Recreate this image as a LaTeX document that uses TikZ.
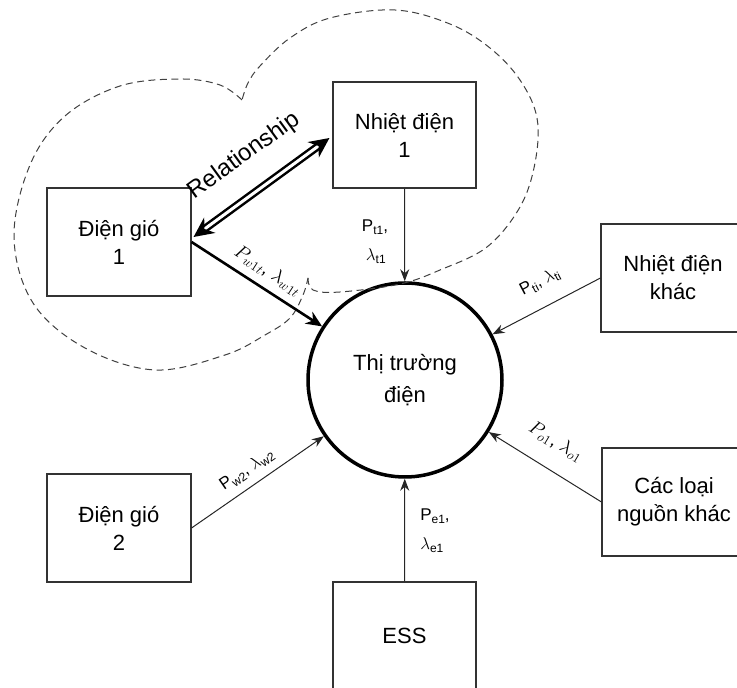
\documentclass[tikz,border=0pt]{standalone}
\usepackage{fix-cm}
\usepackage{fontspec}
\setmainfont{Liberation Sans}
\usetikzlibrary{arrows.meta}

% small lowered index for the flow labels
\newcommand\subx[1]{\raisebox{-0.35ex}{\fontsize{12}{12}\selectfont #1}}

\begin{document}
\begin{tikzpicture}[x=1pt,y=1pt,
  box/.style={draw=black!80, line width=1.1pt, minimum width=144pt, minimum height=108pt,
    align=center, inner sep=0pt, font=\fontsize{22}{28}\selectfont},
  market/.style={circle, draw=black, line width=3.5pt, minimum size=194pt, inner sep=0pt,
    align=center, font=\fontsize{22}{32}\selectfont},
  flow/.style={draw=black!85, line width=1pt, -{Stealth[length=12pt,width=9pt]}},
  flowthick/.style={draw=black, line width=2.6pt, -{Stealth[length=16pt,width=14pt]}},
  relarrow/.style={double=white, double distance=3pt, line width=2.5pt,
    {Stealth[length=20pt,width=19pt]}-{Stealth[length=20pt,width=19pt]}},
  flowlabel/.style={font=\fontsize{17}{29}\selectfont, inner sep=0pt},
  mathlabel/.style={font=\fontsize{19}{19}\selectfont, inner sep=0pt},
  group/.style={draw=black!75, line width=1pt, dash pattern=on 7pt off 4.5pt}
]
\useasboundingbox (0,0) rectangle (737,688);

% market and participants
\node[market] (mk) at (405,308) {Thị trường\\điện};
\node[box] (g1) at (119,446) {Điện gió\\1};
\node[box, minimum width=143pt, minimum height=106pt] (n1) at (404.5,553) {Nhiệt điện\\1};
\node[box] (nk) at (673,410) {Nhiệt điện\\khác};
\node[box] (ok) at (674,186) {Các loại\\nguồn khác};
\node[box] (g2) at (119,160) {Điện gió\\2};
\node[box, minimum width=143pt] (ess) at (404.5,52) {ESS};

% coalition boundary (two lobes)
\draw[group] plot[smooth, tension=0.6] coordinates {
  (242,588) (220,603) (180,609) (120,602) (65,572) (30,523) (14,451) (33,385)
  (85,340) (155,318) (225,333) (265,353) (290,370) (303,393) (308,410)};
\draw[group] plot[smooth, tension=0.6] coordinates {
  (308,410) (313,398) (340,396) (400,404) (440,418) (487,441) (520,481) (535,525)
  (537,570) (520,608) (490,640) (450,664) (395,678) (330,670) (290,650) (260,622)
  (248,605) (242,588)};

% flows into the market
\draw[flow] (n1.south) -- (mk);
\draw[flowthick] (g1.east) -- (mk);
\draw[flow] (nk.west) -- (mk);
\draw[flow] (ok.west) -- (mk);
\draw[flow] (g2.east) -- (mk);
\draw[flow] (ess.north) -- (mk);

% relationship between the two generators
\draw[relarrow] ([xshift=2pt,yshift=5pt]g1.east) -- ([xshift=-3pt,yshift=-3pt]n1.west);
\node[rotate=36, font=\fontsize{24}{24}\selectfont, inner sep=0pt] (rel) at (244,532) {Relationship};

% flow labels
\node[flowlabel, align=left] (lt1) at (375,446) {P\subx{t1},\\\hspace*{4pt}$\lambda$\subx{t1}};
\node[flowlabel, align=left] (le1) at (435,157) {P\subx{e1},\\$\lambda$\subx{e1}};
\node[flowlabel, rotate=27.5] (lti) at (540,406) {P\subx{ti}, $\lambda$\subx{ti}};
\node[mathlabel, rotate=-31] (lo1) at (556,246) {$P_{o1}$, $\lambda_{o1}$};
\node[flowlabel, rotate=34.5] (lw2) at (247,218) {P\subx{w2}, $\lambda$\subx{w2}};
\node[mathlabel, rotate=-33] (lw1) at (268,417) {$P_{w1t}$, $\lambda_{w1t}$};
\end{tikzpicture}
\end{document}
